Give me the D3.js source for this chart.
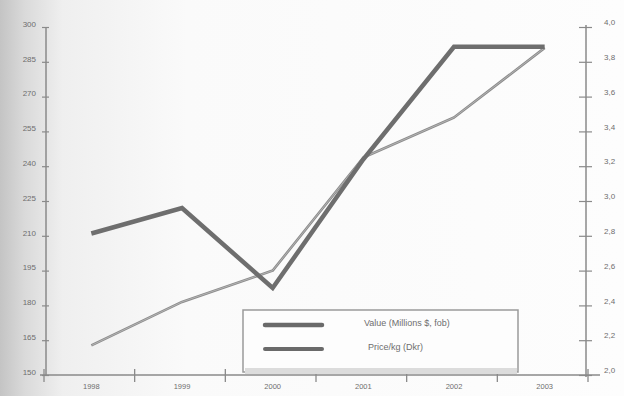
<!DOCTYPE html>
<html><head><meta charset="utf-8">
<script src="https://cdn.jsdelivr.net/npm/d3@7"></script>
<style>body{margin:0;background:#fafafa}svg{display:block}</style>
</head><body>
<script>
const years = ["1998","1999","2000","2001","2002","2003"];
const valueSeries = [211, 222, 187.5, 243, 291.5, 291.5];
const priceSeries = [2.17, 2.42, 2.60, 3.25, 3.48, 3.88];
const leftTicks = [150,165,180,195,210,225,240,255,270,285,300];
const rightTicks = [2.0,2.2,2.4,2.6,2.8,3.0,3.2,3.4,3.6,3.8,4.0];
const legendLabels = ["Value (Millions $, fob)", "Price/kg (Dkr)"];

const W = 624, H = 396;
const svg = d3.select("body").append("svg").attr("width", W).attr("height", H);
const defs = svg.append("defs");
const g1 = defs.append("linearGradient").attr("id","shade").attr("x1","0").attr("x2","1").attr("y1","0").attr("y2","0");
g1.append("stop").attr("offset","0").attr("stop-color","#c4c4c4");
g1.append("stop").attr("offset","0.04").attr("stop-color","#dadada");
g1.append("stop").attr("offset","0.1").attr("stop-color","#efefef");
g1.append("stop").attr("offset","0.3").attr("stop-color","#fafafa");
g1.append("stop").attr("offset","1").attr("stop-color","#fdfdfd");
svg.append("rect").attr("width",W).attr("height",H).attr("fill","url(#shade)");

const x = d3.scaleBand().domain(years).range([46, 590]).paddingInner(0).paddingOuter(0);
const yL = d3.scaleLinear().domain([150, 300]).range([375, 27]);
const yR = d3.scaleLinear().domain([2.0, 4.0]).range([375, 27]);

const axColor = "#8a8a8a", txtColor = "#6e6e6e";
const font = "Liberation Sans, Arial, sans-serif";

// Left axis
const gl = svg.append("g").attr("transform","translate(46,0)")
  .call(d3.axisLeft(yL).tickValues(leftTicks).tickSize(5).tickFormat(d3.format("d")));
gl.selectAll("line").attr("stroke",axColor).attr("x2",-4).attr("x1",3).attr("stroke-width",1.2);
gl.select(".domain").attr("stroke",axColor).attr("stroke-width",1.5).attr("d","M0,375V27");
gl.selectAll("text").attr("fill",txtColor).attr("font-size",8).attr("font-family",font)
  .attr("x",-10).attr("dy","-0.1em");

// Right axis
const gr = svg.append("g").attr("transform","translate(586,0)")
  .call(d3.axisRight(yR).tickValues(rightTicks).tickSize(7).tickFormat(d => d3.format(".1f")(d).replace(".",",")));
gr.selectAll("line").attr("stroke",axColor).attr("x1",-7).attr("x2",6).attr("stroke-width",1.2);
gr.select(".domain").attr("stroke",axColor).attr("stroke-width",1.5).attr("d","M0,377V25");
gr.selectAll("text").attr("fill",txtColor).attr("font-size",8).attr("font-family",font)
  .attr("x",18).attr("dy","-0.3em");

// Bottom axis
const gb = svg.append("g").attr("transform","translate(0,375)")
  .call(d3.axisBottom(x).tickSize(0).tickFormat(d => d));
gb.select(".domain").attr("stroke",axColor).attr("stroke-width",1.5).attr("d","M40,0H600");
gb.selectAll("text").attr("fill",txtColor).attr("font-size",7.5).attr("font-family",font).attr("dy","1.5em");
const bounds = years.map(d => x(d)).concat([x.range()[1]]);
svg.append("g").selectAll("line").data(bounds).join("line")
  .attr("x1",d=>d-2).attr("x2",d=>d-2).attr("y1",369).attr("y2",382)
  .attr("stroke",axColor).attr("stroke-width",1.3);

// Legend box (drawn before lines so lines overlap)
const leg = svg.append("g");
leg.append("rect").attr("x",243).attr("y",310).attr("width",275).attr("height",62)
  .attr("fill","#fdfdfd").attr("stroke","#9a9a9a").attr("stroke-width",1.5);
leg.append("rect").attr("x",245).attr("y",368).attr("width",272).attr("height",6).attr("fill","#dcdcdc");

const cx = d => x(d) + x.bandwidth()/2;
const lineV = d3.line().x((d,i)=>cx(years[i])).y(d=>yL(d));
const lineP = d3.line().x((d,i)=>cx(years[i])).y(d=>yR(d));

svg.append("path").datum(priceSeries).attr("d",lineP).attr("fill","none")
  .attr("stroke","#8c8c8c").attr("stroke-width",2.6).attr("stroke-linejoin","round");
svg.append("path").datum(priceSeries).attr("d",lineP).attr("fill","none")
  .attr("stroke","#bdbdbd").attr("stroke-width",0.8).attr("stroke-linejoin","round");
svg.append("path").datum(valueSeries).attr("d",lineV).attr("fill","none")
  .attr("stroke","#6e6e6e").attr("stroke-width",4.5).attr("stroke-linejoin","miter");

// legend entries
const ly = [325, 349];
leg.selectAll("line.k").data(legendLabels).join("line")
  .attr("x1",265).attr("x2",322).attr("y1",(d,i)=>ly[i]).attr("y2",(d,i)=>ly[i])
  .attr("stroke","#6a6a6a").attr("stroke-width",(d,i)=>i===0?4.5:4).attr("stroke-linecap","round");
leg.selectAll("text").data(legendLabels).join("text")
  .attr("x",(d,i)=>i===0?364:368).attr("y",(d,i)=>ly[i]+1)
  .attr("fill","#6e6e6e").attr("font-size",9).attr("font-family",font)
  .text(d=>d);
</script>
</body></html>
